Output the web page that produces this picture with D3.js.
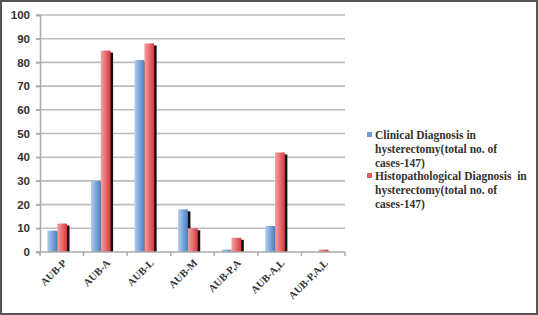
<!DOCTYPE html>
<html>
<head>
<meta charset="utf-8">
<script src="https://cdn.jsdelivr.net/npm/d3@7"></script>
<style>
  body { margin: 0; background: #fff; }
  svg { display: block; }
</style>
</head>
<body>
<div id="chart"></div>
<script>
// chart data
const categories = ["AUB-P", "AUB-A", "AUB-L", "AUB-M", "AUB-P,A", "AUB-A,L", "AUB-P,A,L"];
const clinical = [9, 30, 81, 18, 1, 11, 0];
const histo = [12, 85, 88, 10, 6, 42, 1];
const yTicks = [0, 10, 20, 30, 40, 50, 60, 70, 80, 90, 100];
const legendLines = [
    ["Clinical Diagnosis in", "hysterectomy(total no. of", "cases-147)"],
    ["Histopathological Diagnosis  in", "hysterectomy(total no. of", "cases-147)"]
];

var W = 538, H = 315;
var plotLeft = 40, plotRight = 345, plotTop = 15, plotBottom = 252;

var svg = d3.select("#chart").append("svg")
    .attr("width", W)
    .attr("height", H);

// gradients for the bars
var defs = svg.append("defs");
function grad(id, c1, c2) {
    var g = defs.append("linearGradient").attr("id", id)
        .attr("x1", "0%").attr("x2", "100%").attr("y1", "0%").attr("y2", "0%");
    g.append("stop").attr("offset", "0%").attr("stop-color", c1);
    g.append("stop").attr("offset", "100%").attr("stop-color", c2);
}
grad("gBlue", "#b3cdee", "#4a7fc4");
grad("gRed", "#f4a2a2", "#d8393f");

// outer frame
svg.append("rect")
    .attr("x", 1).attr("y", 1)
    .attr("width", W - 2).attr("height", H - 2)
    .attr("fill", "#fff")
    .attr("stroke", "#555")
    .attr("stroke-width", 2);

var x = d3.scaleBand()
    .domain(categories)
    .range([plotLeft, plotRight]);

var y = d3.scaleLinear()
    .domain([0, 100])
    .range([plotBottom, plotTop]);

// gridlines
svg.append("g")
    .selectAll("line")
    .data(yTicks.filter(d => d > 0))
    .enter().append("line")
    .attr("x1", plotLeft - 4)
    .attr("x2", plotRight)
    .attr("y1", d => y(d))
    .attr("y2", d => y(d))
    .attr("stroke", "#bdbdbd")
    .attr("stroke-width", 1.6);

// y axis
var yAxis = svg.append("g")
    .attr("transform", `translate(${plotLeft},0)`)
    .call(d3.axisLeft(y).tickValues(yTicks).tickSize(4).tickPadding(6));
yAxis.select(".domain").attr("stroke", "#aaa").attr("stroke-width", 1.5);
yAxis.selectAll(".tick line").attr("stroke", "#aaa").attr("stroke-width", 1.5);
yAxis.selectAll("text")
    .attr("font-family", "Liberation Sans, Arial, sans-serif")
    .attr("font-weight", "bold")
    .attr("font-size", "11.5px")
    .attr("fill", "#333");

var bw = x.bandwidth() * 0.225;
var off = x.bandwidth() * 0.17;

// shadows behind bars
var shadows = svg.append("g");
shadows.selectAll(".sb")
    .data(clinical)
    .enter().append("rect")
    .attr("x", (d, i) => x(categories[i]) + off + 2.5)
    .attr("y", d => y(d) + 2)
    .attr("width", bw)
    .attr("height", d => Math.max(0, plotBottom - y(d) - 2))
    .attr("fill", "#111");
shadows.selectAll(".sr")
    .data(histo)
    .enter().append("rect")
    .attr("x", (d, i) => x(categories[i]) + off + bw + 2.5)
    .attr("y", d => y(d) + 2)
    .attr("width", bw)
    .attr("height", d => Math.max(0, plotBottom - y(d) - 2))
    .attr("fill", "#111");

// clinical bars
svg.append("g").selectAll("rect")
    .data(clinical)
    .enter().append("rect")
    .attr("x", (d, i) => x(categories[i]) + off)
    .attr("y", d => y(d))
    .attr("width", bw)
    .attr("height", d => plotBottom - y(d))
    .attr("fill", "url(#gBlue)");

// histopathological bars
svg.append("g").selectAll("rect")
    .data(histo)
    .enter().append("rect")
    .attr("x", (d, i) => x(categories[i]) + off + bw)
    .attr("y", d => y(d))
    .attr("width", bw)
    .attr("height", d => plotBottom - y(d))
    .attr("fill", "url(#gRed)");

// x axis
var xAxis = svg.append("g")
    .attr("transform", `translate(0,${plotBottom})`);
xAxis.append("line")
    .attr("x1", plotLeft - 4).attr("x2", plotRight)
    .attr("stroke", "#aaa").attr("stroke-width", 1.5);
xAxis.selectAll(".sep")
    .data(categories.concat(["end"]))
    .enter().append("line")
    .attr("x1", (d, i) => plotLeft + i * x.step())
    .attr("x2", (d, i) => plotLeft + i * x.step())
    .attr("y1", 0).attr("y2", 4)
    .attr("stroke", "#aaa").attr("stroke-width", 1.5);

// category labels
svg.append("g").selectAll("text")
    .data(categories)
    .enter().append("text")
    .attr("transform", d => `translate(${x(d) + x.bandwidth() / 2 + 3},${plotBottom + 9}) rotate(-45)`)
    .attr("text-anchor", "end")
    .attr("dy", "0.35em")
    .attr("font-family", "Liberation Serif, Times New Roman, serif")
    .attr("font-weight", "bold")
    .attr("font-size", "10.5px")
    .attr("fill", "#333")
    .text(d => d);

// legend
var legColors = ["#6d9bd8", "#e05a60"];
var leg = svg.append("g")
    .selectAll("g")
    .data(legendLines)
    .enter().append("g")
    .attr("transform", (d, i) => `translate(367,${139 + i * 41})`);

leg.append("rect")
    .attr("x", 0).attr("y", -7)
    .attr("width", 5).attr("height", 5)
    .attr("fill", (d, i) => legColors[i]);

leg.append("text")
    .attr("font-family", "Liberation Serif, Times New Roman, serif")
    .attr("font-weight", "bold")
    .attr("font-size", "11.5px")
    .attr("fill", "#333")
    .selectAll("tspan")
    .data(d => d)
    .enter().append("tspan")
    .attr("x", 8)
    .attr("y", (d, i) => i * 14)
    .style("white-space", "pre")
    .text(d => d);
</script>
</body>
</html>
